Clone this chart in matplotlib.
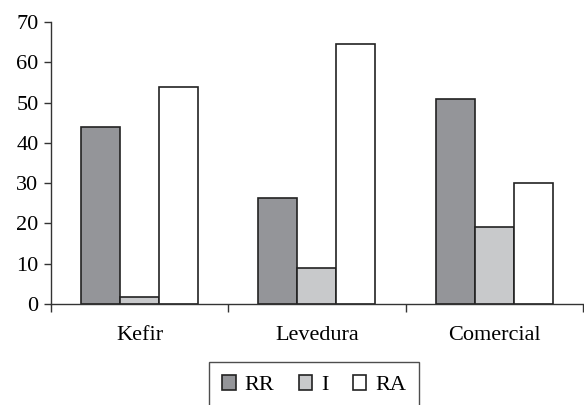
import numpy as np
import matplotlib.pyplot as plt

categories = ['Kefir', 'Levedura', 'Comercial']
series = ['RR', 'I', 'RA']
rr = [44.0, 26.3, 50.8]
i_vals = [1.8, 8.9, 19.2]
ra = [53.9, 64.5, 30.0]

colors = ['#949599', '#c8c9cb', '#ffffff']

plt.rcParams['font.family'] = ['Liberation Serif', 'DejaVu Serif']

fig = plt.figure(figsize=(5.84, 4.05), dpi=100)
ax = fig.add_axes([0.0873, 0.2494, 0.9107, 0.6963])

x = np.arange(len(categories))
w = 0.22
for k, (vals, name) in enumerate(zip([rr, i_vals, ra], series)):
    ax.bar(x + (k - 1) * w, vals, w, color=colors[k], edgecolor='#222222',
           linewidth=1.2, label=name)

ax.set_xlim(-0.5, 2.5)
ax.set_ylim(0, 70)
ax.set_yticks(range(0, 71, 10))
ax.set_xticks(x)
ax.set_xticklabels(categories)
ax.set_xticks([-0.5, 0.5, 1.5, 2.5], minor=True)
ax.tick_params(axis='x', which='major', length=0, pad=16, labelsize=16)
ax.tick_params(axis='x', which='minor', length=6, width=1, color='#333333')
ax.tick_params(axis='y', length=5, width=1, color='#333333', labelsize=16, pad=4)
for s in ['top', 'right']:
    ax.spines[s].set_visible(False)
for s in ['left', 'bottom']:
    ax.spines[s].set_color('#333333')
    ax.spines[s].set_linewidth(1)

leg = fig.legend(loc='upper center', bbox_to_anchor=(0.538, 0.106), ncol=3,
                 frameon=True, fancybox=False, fontsize=16, handlelength=0.6,
                 handleheight=0.6, columnspacing=1.1, handletextpad=0.4,
                 borderpad=0.6, borderaxespad=0)
leg.get_frame().set_edgecolor('#222222')
leg.get_frame().set_linewidth(1)

fig.savefig('out.png', dpi=100)
